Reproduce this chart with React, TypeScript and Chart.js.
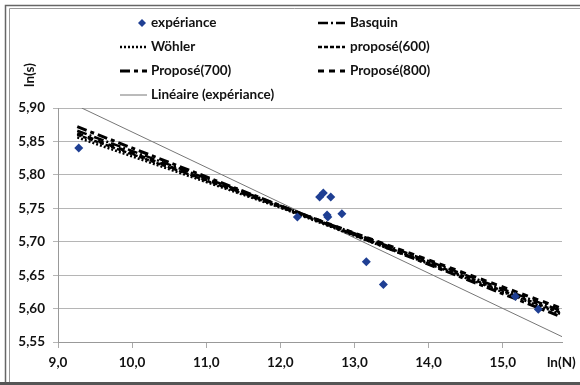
import React, { useEffect, useRef } from "react";
import { Chart, registerables } from "chart.js";

Chart.register(...registerables);

// Experimental points
const expX = [9.28, 12.23, 12.53, 12.58, 12.68, 12.63, 12.64, 12.83, 13.16, 13.39, 15.17, 15.48];
const expY = [5.840, 5.737, 5.767, 5.773, 5.767, 5.740, 5.737, 5.742, 5.670, 5.636, 5.618, 5.599];

// Model curves
const modelX = [9.26, 12.0, 15.78];
const wohler = [5.856, 5.751, 5.592];
const basquin = [5.866, 5.754, 5.597];
const propose600 = [5.860, 5.752, 5.594];
const propose700 = [5.872, 5.754, 5.588];
const propose800 = [5.862, 5.753, 5.601];

// Linear trend (expériance)
const linX = [9.32, 15.8];
const linY = [5.9, 5.558];

const yTicks = [5.55, 5.6, 5.65, 5.7, 5.75, 5.8, 5.85, 5.9];
const xTicks = [9, 10, 11, 12, 13, 14, 15];

const FONT = "Lato, 'Open Sans', sans-serif";
const BLUE = "#1f3f93";

const pts = (xs: number[], ys: number[]) => xs.map((x, i) => ({ x, y: ys[i] }));

export default function App() {
  const ref = useRef<HTMLCanvasElement | null>(null);
  useEffect(() => {
    document.body.style.margin = "0";
    const canvas = ref.current!;
    const frame = {
      id: "frame",
      beforeDraw(chart: any) {
        const c = chart.ctx;
        c.save();
        c.fillStyle = "#fff";
        c.fillRect(0, 0, 580, 385);
        c.strokeStyle = "#666";
        c.lineWidth = 1.5;
        c.beginPath();
        c.moveTo(5.5, 385);
        c.lineTo(5.5, 5.5);
        c.lineTo(580, 5.5);
        c.stroke();
        c.beginPath();
        c.moveTo(9.5, 385);
        c.lineTo(9.5, 8.5);
        c.lineTo(580, 8.5);
        c.strokeStyle = "#999";
        c.lineWidth = 1;
        c.stroke();
        c.fillStyle = "#555";
        c.fillRect(0, 382, 580, 3);
        c.restore();
      },
      afterDraw(chart: any) {
        const c = chart.ctx;
        c.save();
        c.font = `bold 13.5px ${FONT}`;
        c.fillStyle = "#111";
        // axis titles
        c.textBaseline = "middle";
        c.textAlign = "left";
        c.fillText("ln(N)", 547, 363);
        c.save();
        c.translate(30, 75);
        c.rotate(-Math.PI / 2);
        c.textAlign = "center";
        c.fillText("ln(s)", 0, 0);
        c.restore();
        // legend
        const items = [
          { ds: 0, x0: 120, x1: 147, tx: 151, y: 23 },
          { ds: 1, x0: 120, x1: 147, tx: 151, y: 47 },
          { ds: 4, x0: 120, x1: 147, tx: 151, y: 71 },
          { ds: 6, x0: 120, x1: 147, tx: 151, y: 95 },
          { ds: 2, x0: 318, x1: 345, tx: 350, y: 23 },
          { ds: 3, x0: 318, x1: 345, tx: 350, y: 47 },
          { ds: 5, x0: 318, x1: 345, tx: 350, y: 71 },
        ];
        for (const it of items) {
          const d = chart.data.datasets[it.ds];
          if (it.ds === 0) {
            const cx = 142, cy = it.y, r = 4;
            c.fillStyle = BLUE;
            c.beginPath();
            c.moveTo(cx, cy - r);
            c.lineTo(cx + r, cy);
            c.lineTo(cx, cy + r);
            c.lineTo(cx - r, cy);
            c.closePath();
            c.fill();
          } else {
            c.strokeStyle = d.borderColor;
            c.lineWidth = d.borderWidth;
            c.setLineDash(d.borderDash || []);
            c.beginPath();
            c.moveTo(it.x0, it.y);
            c.lineTo(it.x1, it.y);
            c.stroke();
            c.setLineDash([]);
          }
          c.fillStyle = "#111";
          c.textAlign = "left";
          c.fillText(d.label, it.tx, it.y);
        }
        c.restore();
      },
    };

    const lineDs = (label: string, ys: number[], dash: number[], w: number) => ({
      label,
      data: pts(modelX, ys),
      showLine: true,
      borderColor: "#000",
      backgroundColor: "#000",
      borderWidth: w,
      borderDash: dash,
      pointRadius: 0,
      fill: false,
    });

    const chart = new Chart(canvas, {
      type: "scatter",
      data: {
        datasets: [
          {
            label: "expériance",
            data: pts(expX, expY),
            pointStyle: "rectRot",
            pointRadius: 4.5,
            backgroundColor: BLUE,
            borderColor: BLUE,
            borderWidth: 0,
            showLine: false,
          } as any,
          lineDs("Wöhler", wohler, [2, 2], 2.5),
          lineDs("Basquin", basquin, [10, 3, 2, 3], 2.5),
          lineDs("proposé(600)", propose600, [4, 2], 2.5),
          lineDs("Proposé(700)", propose700, [10, 4, 4, 4], 3),
          lineDs("Proposé(800)", propose800, [6, 5], 3),
          {
            label: "Linéaire (expériance)",
            data: pts(linX, linY),
            showLine: true,
            borderColor: "#777",
            borderWidth: 1,
            pointRadius: 0,
          } as any,
        ],
      },
      options: {
        animation: false,
        responsive: false,
        layout: { padding: { left: 0, top: 108, right: 18, bottom: 0 } },
        plugins: { legend: { display: false }, tooltip: { enabled: false } },
        scales: {
          x: {
            type: "linear",
            min: 9,
            max: 15.8,
            afterFit: (s: any) => { s.height = 43; },
            afterBuildTicks: (s: any) => { s.ticks = xTicks.map((v) => ({ value: v })); },
            ticks: {
              callback: (v: any) => Number(v).toFixed(1).replace(".", ","),
              font: { family: FONT, size: 13.5, weight: "bold" },
              color: "#111",
              padding: 7,
              maxRotation: 0,
            },
            grid: { drawOnChartArea: false, tickLength: 6, color: "#aaa" },
            border: { color: "#999" },
          },
          y: {
            type: "linear",
            min: 5.55,
            max: 5.9,
            afterFit: (s: any) => { s.width = 58; },
            afterBuildTicks: (s: any) => { s.ticks = yTicks.map((v) => ({ value: v })); },
            ticks: {
              callback: (v: any) => Number(v).toFixed(2).replace(".", ","),
              font: { family: FONT, size: 13.5, weight: "bold" },
              color: "#111",
              padding: 8,
            },
            grid: { color: "#b5b5b5", tickLength: 5 },
            border: { color: "#999" },
          },
        },
      } as any,
      plugins: [frame],
    });
    return () => chart.destroy();
  }, []);
  return (
    <div style={{ width: 580, height: 385 }}>
      <canvas ref={ref} width={580} height={385} style={{ width: 580, height: 385, display: "block" }} />
    </div>
  );
}
